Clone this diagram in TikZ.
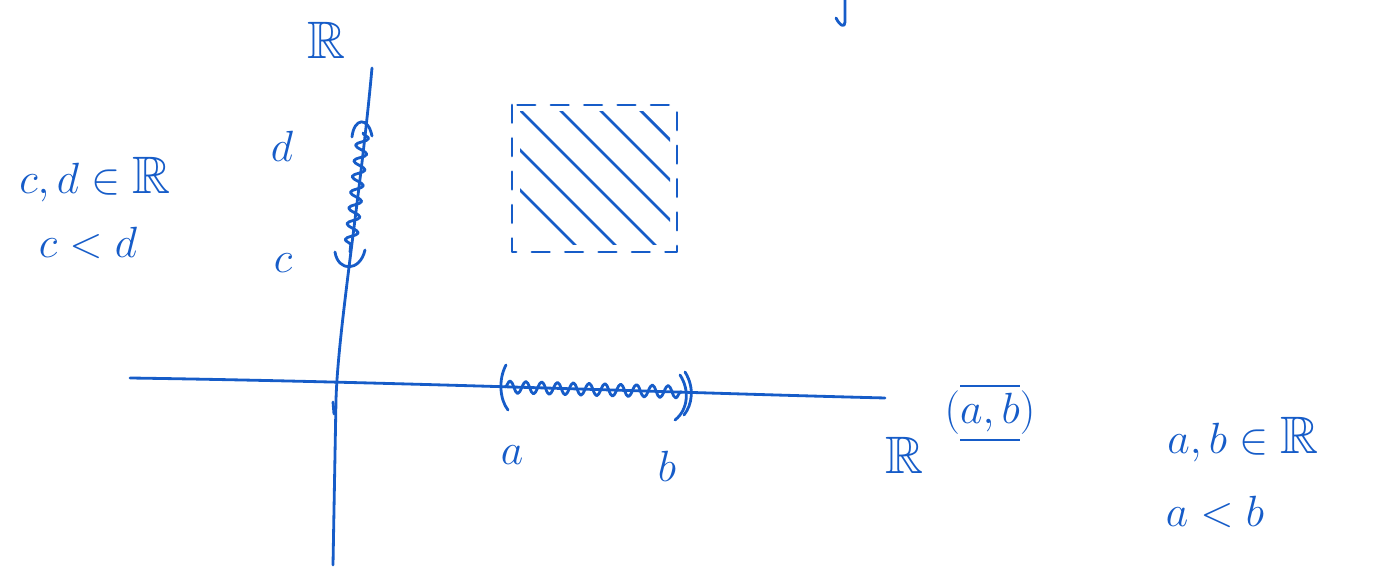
\documentclass[tikz,border=0pt]{standalone}
\usepackage{amssymb}
\usetikzlibrary{decorations.pathmorphing}
\definecolor{ink}{RGB}{22,92,200}
\tikzset{
  pen/.style={draw=ink, line width=1.6pt, line cap=round, line join=round},
  lbl/.style={text=ink, inner sep=0pt, font=\fontsize{30}{34}\selectfont},
  squig/.style={pen, decorate, decoration={snake, amplitude=3.5pt, segment length=9pt}},
  dashbox/.style={pen, dash pattern=on 10pt off 9pt}
}
\begin{document}
\begin{tikzpicture}[x=0.02cm, y=-0.02cm]
\useasboundingbox (0,0) rectangle (1374,573);
% axes
\coordinate (vtop) at (372,68);
\coordinate (vbot) at (333,565);
\coordinate (hl) at (130,378);
\coordinate (hr) at (885,398);
\draw[pen] (vtop) .. controls (360,200) and (338,330) .. (336,400) -- (vbot);
\draw[pen] (hl) .. controls (400,382) and (650,392) .. (hr);
\draw[pen] (333,402) -- (334,414);
% interval on vertical axis
\coordinate (dpt) at (363,133);
\coordinate (cpt) at (350,252);
\draw[squig] (dpt) -- (cpt);
\draw[pen] (352,137) .. controls (354,118) and (368,116) .. (372,136);
\draw[pen] (335,252) .. controls (338,272) and (360,272) .. (365,250);
% interval on horizontal axis
\coordinate (apt) at (505,387);
\coordinate (bpt) at (682,392);
\draw[squig] (apt) -- (bpt);
\draw[pen] (506,365) .. controls (498,380) and (500,400) .. (508,410);
\draw[pen] (680,375) .. controls (690,390) and (688,410) .. (675,420);
\draw[pen] (685,372) .. controls (695,388) and (692,405) .. (684,415);
% dashed square with hatching
\coordinate (sq1) at (512,105);
\coordinate (sq2) at (677,252);
\draw[dashbox] (sq1) rectangle (sq2);
\begin{scope}
\clip (520,112) rectangle (670,245);
\foreach \s in {-100,-60,-20,20,60,100} {
  \draw[pen] (530+\s,100) -- (690+\s,260);
}
\end{scope}
% labels
\node[lbl] (Rv) at (327,40) {$\mathbb{R}$};
\node[lbl] (dl) at (282,146) {$d$};
\node[lbl] (cl) at (283,263) {$c$};
\node[lbl] (cd1) at (95,180) {$c,d\in\mathbb{R}$};
\node[lbl] (cd2) at (88,243) {$c<d$};
\node[lbl] (al) at (512,455) {$a$};
\node[lbl] (bl) at (667,466) {$b$};
\node[lbl] (Rh) at (905,455) {$\mathbb{R}$};
\node[lbl] (ab) at (990,413) {$(\overline{\underline{a,b}})$};
\node[lbl] (ab1) at (1243,440) {$a,b\in\mathbb{R}$};
\node[lbl] (ab2) at (1215,512) {$a<b$};
% hook at top
\coordinate (h1) at (845,0);
\draw[pen] (h1) -- (845,22) .. controls (845,28) and (840,26) .. (836,18);
\end{tikzpicture}
\end{document}
